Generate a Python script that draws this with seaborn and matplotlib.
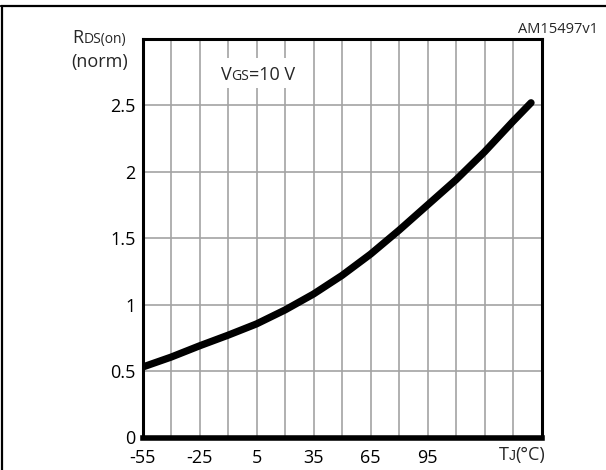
import numpy as np
import pandas as pd
import matplotlib
matplotlib.use("Agg")
import matplotlib.pyplot as plt
from matplotlib.lines import Line2D
from matplotlib.patches import Rectangle
import seaborn as sns

# ---- data ----
tj = [-55, -40, -25, -10, 5, 20, 35, 50, 65, 80, 95, 110, 125, 140, 149.5]
rds = [0.53, 0.605, 0.69, 0.77, 0.855, 0.96, 1.08, 1.22, 1.38, 1.56, 1.75, 1.94, 2.15, 2.38, 2.52]
x_grid = list(range(-55, 156, 15))
x_labels = ["-55", "-25", "5", "35", "65", "95"]
y_grid = [0, 0.5, 1, 1.5, 2, 2.5, 3]
y_labels = ["0", "0.5", "1", "1.5", "2", "2.5", ""]

sns.set_style("white")
plt.rcParams['font.family'] = ['Open Sans', 'DejaVu Sans']

W, H = 606, 470
FS = 13
fig = plt.figure(figsize=(W / 100, H / 100), dpi=100)
L, R, T, B = 142.5, 541.5, 39.0, 437.5
ax = fig.add_axes([L / W, 1 - B / H, (R - L) / W, (B - T) / H])

df = pd.DataFrame({"tj": tj, "rds": rds})
sns.lineplot(data=df, x="tj", y="rds", ax=ax, color="black", linewidth=5.2,
             solid_capstyle="round", solid_joinstyle="round", zorder=5)

ax.set_xlim(-55, 155)
ax.set_ylim(0, 3)
ax.set_xticks(x_grid)
ax.set_xticklabels([str(v) if str(v) in x_labels else "" for v in x_grid])
ax.set_yticks(y_grid)
ax.set_yticklabels(y_labels)
ax.tick_params(length=0, labelsize=FS, colors="black")
ax.tick_params(axis="x", pad=8)
ax.tick_params(axis="y", pad=5)
ax.grid(True, color="#a3a3a3", linewidth=1.2)
ax.set_xlabel("")
ax.set_ylabel("")
for s in ["top", "right", "left"]:
    ax.spines[s].set_linewidth(2.2)
    ax.spines[s].set_color("black")
ax.spines["bottom"].set_linewidth(4.0)
ax.spines["bottom"].set_color("black")
for s in ax.spines.values():
    s.set_zorder(6)

# outer frame (partial)
fig.add_artist(Line2D([1 / W, 1], [1 - 6 / H, 1 - 6 / H], transform=fig.transFigure,
                      color="black", linewidth=1.6))
fig.add_artist(Line2D([1.5 / W, 1.5 / W], [0, 1 - 6 / H], transform=fig.transFigure,
                      color="black", linewidth=1.6))


def rich_text(x_px, y_px, pieces, ha="left", box=None, families=None):
    """pieces: list of (text, fontsize[, family]). Baseline-aligned, pixel coords with top-left origin."""
    fig.canvas.draw()
    r = fig.canvas.get_renderer()
    arts = []
    cur = 0.0
    for p in pieces:
        t, fs = p[0], p[1]
        kw = {}
        if len(p) > 2:
            kw["family"] = p[2]
        a = fig.text(0, 0, t, fontsize=fs, va="baseline", ha="left",
                     transform=None, **kw)
        bb = a.get_window_extent(renderer=r)
        arts.append((a, cur))
        cur += bb.width
    total = cur
    x0 = x_px if ha == "left" else (x_px - total / 2 if ha == "center" else x_px - total)
    ybase = H - y_px
    for a, off in arts:
        a.set_position((x0 + off, ybase))
        a.set_zorder(4)
    if box is not None:
        lpad, rpad, below, above = box
        rect = Rectangle((x0 - lpad, ybase - below), total + lpad + rpad, below + above,
                         transform=None, facecolor="white", edgecolor="none", zorder=3)
        fig.add_artist(rect)
    return arts


# y-axis label
rich_text(126, 43, [("R", FS), ("DS(on)", 10)], ha="right")
fig.text(128 / W, 1 - 67 / H, "(norm)", fontsize=FS, ha="right", va="baseline")

# reference code
fig.text(598 / W, 1 - 33 / H, "AM15497v1", fontsize=10.5, ha="right", va="baseline")

# x-axis unit label
rich_text(522, 460, [("T", FS), ("J", 10, "Liberation Sans"), ("(°C)", FS)], ha="center")

# VGS label with white background
rich_text(258, 80, [("V", FS), ("GS", 10), ("=10 V", FS)], ha="center", box=(9, 4, 8, 22))

fig.savefig("out.png", dpi=100, facecolor="white")
